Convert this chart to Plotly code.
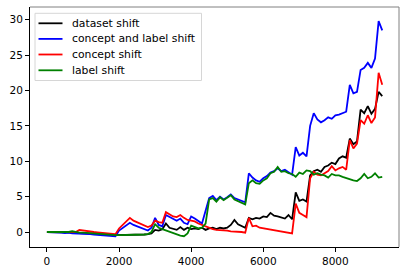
import plotly.graph_objects as go

steps = list(range(0, 9400, 100))

dataset_shift = [
    0.0, 0.0, 0.0, -0.05, -0.05, -0.1, -0.1, -0.1, -0.1, -0.15, -0.15, -0.2, -0.2, -0.25, -0.3, -0.3, -0.35, -0.4, -0.4, -0.45,
    -0.45, -0.45, -0.45, -0.4, -0.4, -0.4, -0.4, -0.35, -0.3, -0.2,
    0.3, 0.2, 0.4, 1.2, 0.6, 0.4, 0.3, 0.7, 0.3, 0.6,
    0.4, 0.5, 0.4, 0.6, 0.3, 0.5, 0.6, 0.4, 0.6, 0.5,
    0.6, 1.0, 1.7, 1.1, 0.8, 0.6, 2.0, 1.8, 2.0, 1.9,
    2.2, 2.1, 2.7, 2.3, 2.2, 2.0, 1.9, 2.4, 1.8, 5.6,
    4.4, 4.6, 4.3, 8.0, 8.6, 8.8, 8.5, 9.2, 9.4, 9.8,
    9.6, 10.4, 10.7, 10.5, 13.2, 12.4, 12.8, 17.3, 16.8, 17.8,
    16.7, 17.4, 19.8, 19.2,
]

concept_label_shift = [
    0.0, 0.0, -0.05, -0.1, -0.1, -0.15, -0.1, -0.2, -0.2, -0.25, -0.2, -0.3, -0.3, -0.35, -0.4, -0.45, -0.5, -0.55, -0.6, -0.6,
    0.2, 0.6, 0.9, 1.3, 1.0, 0.8, 0.6, 0.4, 0.2, 0.6,
    2.0, 1.0, 0.8, 2.4, 2.1, 1.9, 1.6, 1.9, 1.3, 1.1,
    2.2, 1.9, 1.5, 1.2, 3.0, 4.8, 5.1, 4.5, 5.0, 4.6,
    4.9, 5.3, 4.8, 4.6, 4.3, 4.2, 8.3, 7.7, 7.3, 7.1,
    7.6, 7.9, 8.4, 8.6, 9.0, 8.6, 8.8, 8.5, 8.1, 12.0,
    10.8, 11.2, 10.7, 15.0, 16.8, 15.9, 15.5, 15.8, 16.2, 16.0,
    16.5, 16.6, 16.8, 17.0, 20.8, 19.6, 19.8, 22.9, 23.2, 23.9,
    23.2, 24.5, 29.8, 28.5,
]

concept_shift = [
    0.0, 0.0, 0.0, -0.05, -0.05, -0.1, -0.1, -0.1, 0.0, 0.3, 0.2, 0.1, 0.0, 0.0, -0.05, -0.1, -0.15, -0.2, -0.25, -0.3,
    0.5, 1.0, 1.4, 2.0, 1.6, 1.4, 1.2, 0.9, 0.7, 0.9,
    1.6, 1.4, 1.3, 2.8, 2.5, 2.2, 2.1, 2.4, 2.0, 1.7,
    1.6, 1.5, 1.2, 1.0, 0.7, 0.5, 0.4, 0.3, 0.3, 0.2,
    0.2, 0.1, 0.1, 0.0, 0.0, -0.1, 2.0, 0.8, 0.9, 0.6,
    0.5, 0.4, 0.3, 0.2, 0.2, 0.1, 0.0, -0.1, -0.2, 4.0,
    2.7, 2.4, 2.1, 7.6, 8.5, 8.1, 8.0, 8.3, 8.6, 9.3,
    8.7, 9.0, 9.2, 8.8, 13.0, 11.8, 12.5, 15.8, 15.3, 16.5,
    15.4, 16.2, 22.5, 20.8,
]

label_shift = [
    0.0, 0.0, 0.0, -0.05, -0.05, -0.1, 0.0, 0.1, -0.05, -0.1, -0.1, -0.15, -0.2, -0.2, -0.25, -0.3, -0.35, -0.4, -0.4, -0.45,
    -0.45, -0.45, -0.45, -0.4, -0.4, -0.4, -0.4, -0.35, -0.3, 0.0,
    1.1, 0.6, 0.4, 0.2, 0.0, -0.2, -0.35, -0.5, -0.6, -0.2,
    0.9, 0.7, 0.5, 0.6, 1.2, 4.6, 4.8, 4.3, 4.9, 4.5,
    4.8, 5.2, 4.6, 4.4, 4.1, 3.9, 6.9, 7.3, 6.9, 6.8,
    7.3, 7.6, 8.3, 8.5, 9.2, 8.5, 8.6, 8.3, 8.2, 7.8,
    8.4, 8.2, 8.7, 8.6, 8.1, 8.3, 8.1, 8.0, 7.7, 8.2,
    8.0, 8.0, 7.8, 7.6, 7.5, 7.3, 7.2, 7.6, 8.2, 7.6,
    7.8, 8.3, 7.7, 7.8,
]

series_names = ["dataset shift", "concept and label shift", "concept shift", "label shift"]
series_values = [dataset_shift, concept_label_shift, concept_shift, label_shift]
series_colors = ["black", "#0000ff", "#ff0000", "#008000"]

x_ticks = [0, 2000, 4000, 6000, 8000]
y_ticks = [0, 5, 10, 15, 20, 25, 30]

fig = go.Figure()
for name, vals, color in zip(series_names, series_values, series_colors):
    fig.add_trace(go.Scatter(x=steps, y=vals, mode="lines", name=name,
                             line=dict(color=color, width=1.8), showlegend=False))

# plot area in pixels: x 30..399, y 7..247
L, R, T, B = 30, 399, 7, 247
W, H = R - L, B - T
def px(x):
    return (x - L) / W
def py(y):
    return (B - y) / H

shapes = [
    dict(type="line", xref="paper", yref="paper", x0=0, x1=1, y0=1, y1=1,
         line=dict(color="#808080", width=1)),
    dict(type="line", xref="paper", yref="paper", x0=1, x1=1, y0=0, y1=1,
         line=dict(color="#808080", width=1)),
    # legend box
    dict(type="rect", xref="paper", yref="paper", x0=px(35), x1=px(201.5), y0=py(80.5), y1=py(13.3),
         line=dict(color="#d6d6d6", width=1), fillcolor="rgba(255,255,255,0.8)", layer="above"),
]
annotations = []
row_y = [23.3, 38.9, 54.5, 70.3]
for name, color, ry in zip(series_names, series_colors, row_y):
    shapes.append(dict(type="line", xref="paper", yref="paper", x0=px(38.5), x1=px(62.5),
                       y0=py(ry), y1=py(ry), line=dict(color=color, width=1.8), layer="above"))
    annotations.append(dict(xref="paper", yref="paper", x=px(70.5), y=py(ry), text=name,
                            showarrow=False, xanchor="left", yanchor="middle", xshift=-1,
                            font=dict(family="DejaVu Sans", size=10.8, color="black")))

font = dict(family="DejaVu Sans", size=10.5, color="black")
fig.update_layout(
    width=407, height=274,
    margin=dict(l=L, r=407 - R, t=T, b=274 - B, pad=0),
    paper_bgcolor="white", plot_bgcolor="white",
    font=font,
    showlegend=False,
    xaxis=dict(range=[-470, 9765], tickvals=x_ticks, ticktext=[str(v) for v in x_ticks],
               showgrid=False, zeroline=False, showline=True, linecolor="black", linewidth=1,
               ticks="outside", ticklen=4, tickcolor="black", tickwidth=1, automargin=False,
               tickfont=font),
    yaxis=dict(range=[-2.12, 31.8], tickvals=y_ticks, ticktext=[str(v) for v in y_ticks],
               showgrid=False, zeroline=False, showline=True, linecolor="black", linewidth=1,
               ticks="outside", ticklen=4, tickcolor="black", tickwidth=1, automargin=False,
               tickfont=font),
    shapes=shapes,
    annotations=annotations,
)

fig.write_html("out.html", config={"displayModeBar": False},
               post_script="document.body.style.margin='0';document.body.style.overflow='hidden';")
